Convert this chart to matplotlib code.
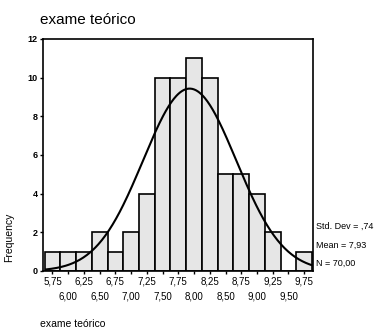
import numpy as np
import matplotlib.pyplot as plt

plt.rcParams['font.family'] = ['Liberation Sans', 'DejaVu Sans']

# histogram data (bin centres, counts)
centres = [5.75, 6.00, 6.25, 6.50, 6.75, 7.00, 7.25, 7.50, 7.75,
           8.00, 8.25, 8.50, 8.75, 9.00, 9.25, 9.50, 9.75]
counts = [1, 1, 1, 2, 1, 2, 4, 10, 10, 11, 10, 5, 5, 4, 2, 0, 1]
std_dev = 0.74
mean = 7.93
n = 70
width = 0.25

fig = plt.figure(figsize=(3.8, 3.33), dpi=100)
ax = fig.add_axes([43/380, 1 - 271/333, 270/380, 232/333])

ax.bar(centres, counts, width=width, color='#e6e6e6', edgecolor='black',
       linewidth=1.2)

# fitted normal curve
xs = np.linspace(5.65, 9.86, 300)
ys = n * width * np.exp(-0.5 * ((xs - mean) / std_dev) ** 2) / (std_dev * np.sqrt(2 * np.pi))
ax.plot(xs, ys, color='black', linewidth=1.5)

ax.set_xlim(5.60, 9.89)
ax.set_ylim(0, 12)
ax.set_yticks([0, 2, 4, 6, 8, 10, 12])
ax.set_yticklabels(['0', '2', '4', '6', '8', '10', '12'], fontsize=6.5,
                   fontweight='bold')

def fmt(c):
    return f"{c:.2f}".replace('.', ',')

row1 = centres[0::2]
row2 = centres[1::2]
ax.set_xticks(row1)
ax.set_xticklabels([fmt(c) for c in row1], fontsize=7)
ax.set_xticks(row2, minor=True)
ax.set_xticklabels([fmt(c) for c in row2], minor=True, fontsize=7)
ax.tick_params(axis='both', which='major', length=2, width=1, pad=2)
ax.tick_params(axis='x', which='minor', length=2, width=1, pad=13)
for sp in ax.spines.values():
    sp.set_linewidth(1.2)

fig.text(40/380, 1 - 20/333, 'exame teórico', fontsize=11, va='center')
fig.text(9/380, 1 - 237/333, 'Frequency', fontsize=7.5, rotation=90,
         va='center', ha='center')
fig.text(40/380, 1 - 324/333, 'exame teórico', fontsize=7.5, va='center')

fig.text(316/380, 1 - 226/333, 'Std. Dev = ,74', fontsize=6.5, va='center')
fig.text(316/380, 1 - 245/333, 'Mean = 7,93', fontsize=6.5, va='center')
fig.text(316/380, 1 - 263/333, 'N = 70,00', fontsize=6.5, va='center')

fig.savefig('out.png', dpi=100)
